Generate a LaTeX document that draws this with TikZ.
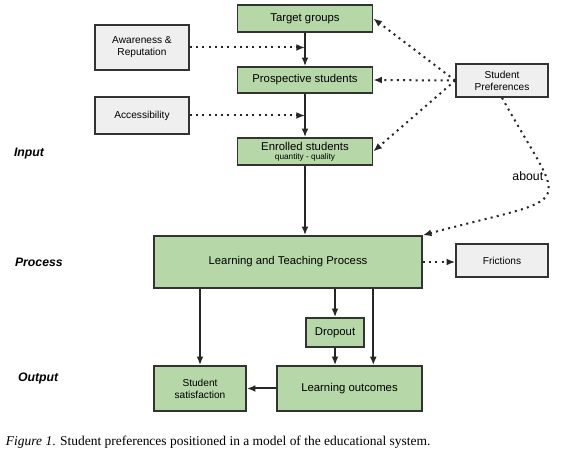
\documentclass[tikz,border=0pt]{standalone}
\usepackage{fontspec}
\setmainfont{Liberation Sans}
\newfontfamily\captionfont{Liberation Serif}
\usetikzlibrary{arrows.meta}

\definecolor{flowgreen}{HTML}{B6D7A8}
\definecolor{factorgrey}{HTML}{EFEFEF}

\begin{document}
\begin{tikzpicture}[%
    x=0.75pt,
    y=0.75pt,
    >={Latex[length=6.5pt,width=5.2pt]},
    line width=1.5pt,
    draw=black!85,
    font=\fontsize{8.5}{10}\selectfont,
    flow/.style={draw=black!80, line width=1.2pt, fill=flowgreen, inner sep=0pt, align=center},
    factor/.style={flow, fill=factorgrey, font=\fontsize{7.6}{9}\selectfont},
    dots/.style={line width=1.5pt, dash pattern=on 1.5pt off 3.2pt},
    stage/.style={anchor=west, inner sep=0pt, font=\bfseries\itshape\fontsize{9.2}{11}\selectfont}
  ]
    \useasboundingbox (0,0) rectangle (566,456);

    % input column
    \node[flow, minimum width=101.25pt, minimum height=20.25pt] (tg) at (305,437.5) {Target groups};
    \node[flow, minimum width=101.25pt, minimum height=19.5pt] (ps) at (305,376) {Prospective students};
    \node[flow, minimum width=101.25pt, minimum height=20.25pt, font=\fontsize{8.5}{6.8}\selectfont] (es) at (305,304.5)
      {Enrolled students\\{\fontsize{6.2}{7}\selectfont quantity - quality}};

    % factors
    \node[factor, minimum width=70.5pt, minimum height=33.75pt] (aw) at (142,408.5) {Awareness \&\\Reputation};
    \node[factor, minimum width=70.5pt, minimum height=27.75pt] (ac) at (142,340.5) {Accessibility};
    \node[factor, minimum width=69pt, minimum height=24.75pt] (pf) at (502,375.5) {Student\\Preferences};
    \node[factor, minimum width=69pt, minimum height=24.75pt] (fr) at (502,195.5) {Frictions};

    % process and output
    \node[flow, minimum width=201pt, minimum height=39pt] (lt) at (288,194) {Learning and Teaching Process};
    \node[flow, minimum width=43.5pt, minimum height=21.75pt] (dr) at (335,123.5) {Dropout};
    \node[flow, minimum width=69pt, minimum height=33.75pt, font=\fontsize{7.6}{9}\selectfont] (ss) at (200,67.5) {Student\\satisfaction};
    \node[flow, minimum width=108.75pt, minimum height=33.75pt] (lo) at (349.5,67.5) {Learning outcomes};

    \node[stage] (input) at (13,302) {Input};
    \node[stage] (process) at (14,194) {Process};
    \node[stage] (output) at (17,78) {Output};

    \node[anchor=base west, inner sep=0pt, font=\captionfont\fontsize{10.1}{12}\selectfont] (caption) at (5,11)
      {\textit{Figure 1}. Student preferences positioned in a model of the educational system.};

    \path[->] (tg)                edge (ps)
              (ps)                edge (es)
              (es.south)          edge (es.south |- lt.north)
              (ss.north |- lt.south) edge (ss.north)
              (dr.north |- lt.south) edge (dr.north)
              (dr.south)          edge (dr.south |- lo.north)
              (es.east |- lt.south) edge (es.east |- lo.north)
              (lo)                edge (ss);

    \path[->] (aw.east) edge [dots] (aw.east -| tg.south)
              (ac.east) edge [dots] (ac.east -| ps.south)
              (pf.west) edge [dots] (tg.east)
              (pf.west) edge [dots] (ps.east)
              (pf.west) edge [dots] (es.east)
              (lt.east) edge [dots] (lt.east -| fr.west)
              (pf.south) edge [dots, out=-61, in=15, out distance=101pt, in distance=123pt]
                node [pos=0.33, left, inner sep=1pt, font=\fontsize{9.2}{11}\selectfont] {about} (lt.north east);
  \end{tikzpicture}
\end{document}
